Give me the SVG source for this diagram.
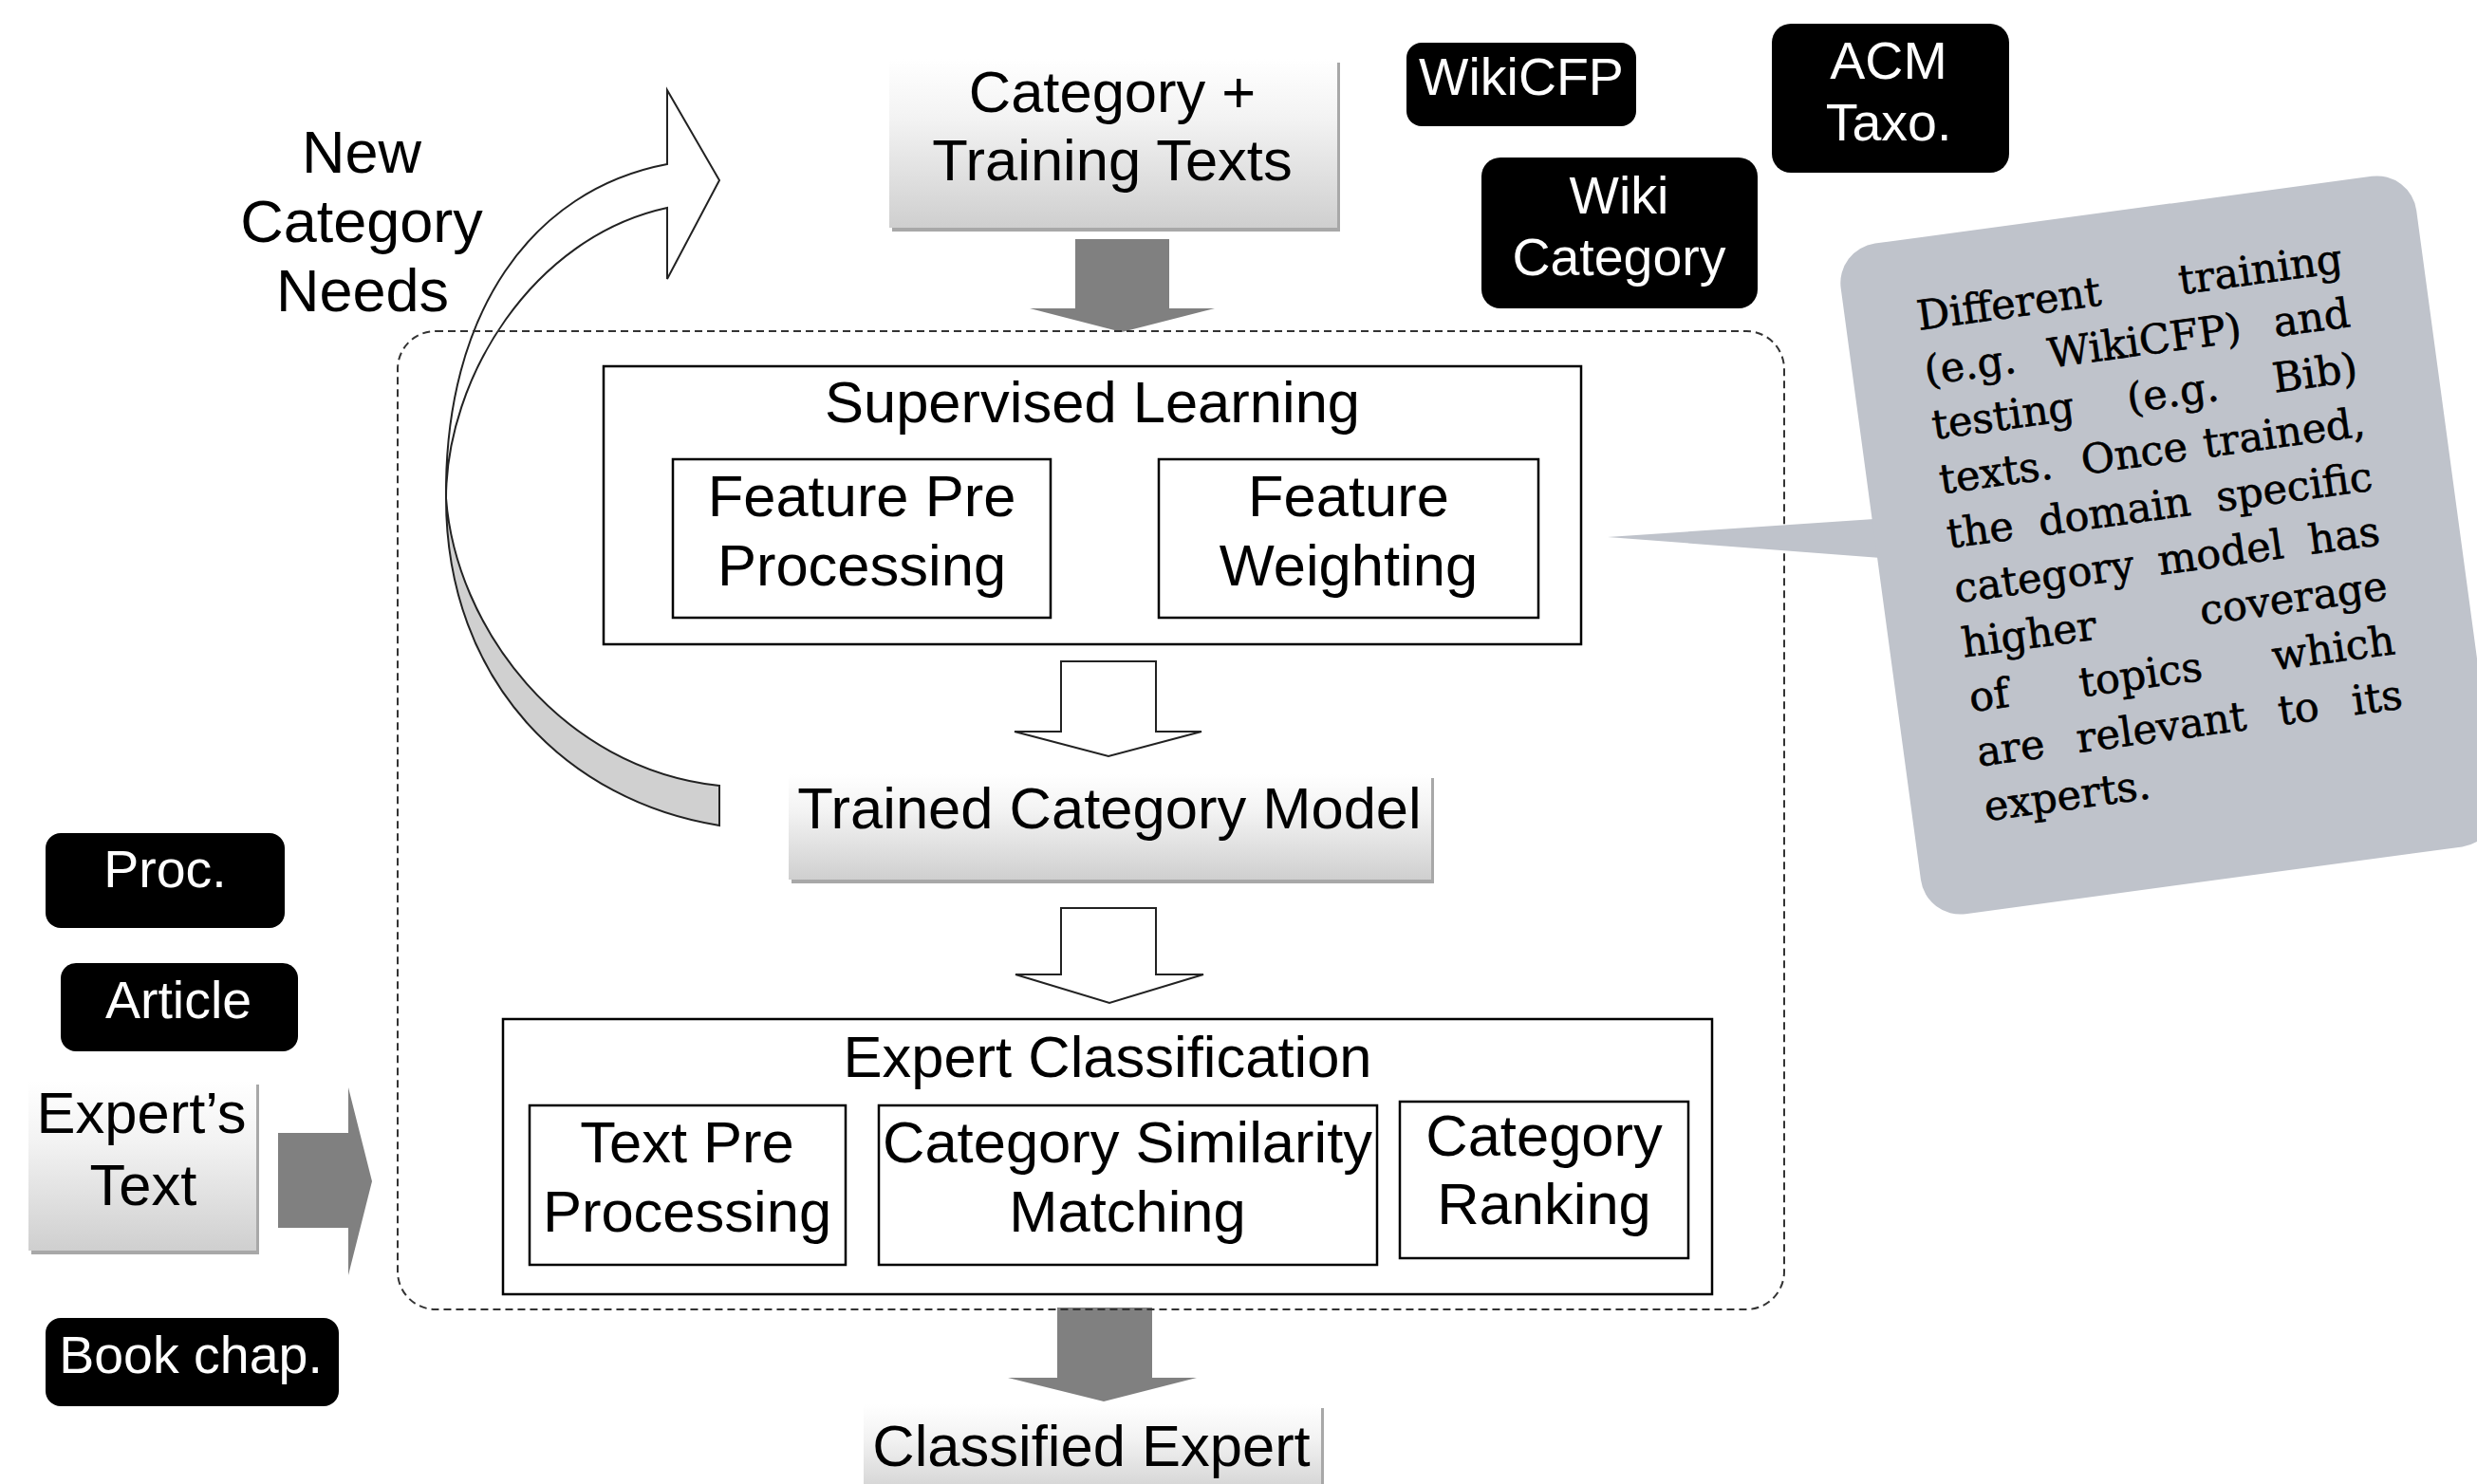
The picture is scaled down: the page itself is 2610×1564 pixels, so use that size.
<svg xmlns="http://www.w3.org/2000/svg" width="2610" height="1564" viewBox="0 0 2610 1564">
<style>
.lbl{font-family:"Liberation Sans",Arial,sans-serif;font-size:61.5px;fill:#000;text-anchor:middle}
.big{font-size:63px}
.wl{font-family:"Liberation Sans",Arial,sans-serif;font-size:55.5px;fill:#fff;text-anchor:middle}
.box{fill:#fff;stroke:#000;stroke-width:2.5}
.blk{fill:#000}
.solid{fill:#808080}
.hollow{fill:#fff;stroke:#222;stroke-width:2}
.shadow{fill:#a8a8a8}
.grad{fill:url(#g)}
.note{font-family:"DejaVu Serif",serif;font-size:43px;fill:#000;stroke:#000;stroke-width:0.6}
.mid{text-anchor:middle}
.end{text-anchor:end}
</style>
<defs>
<linearGradient id="g" x1="0" y1="0" x2="0" y2="1">
<stop offset="0" stop-color="#ffffff"/>
<stop offset="0.35" stop-color="#f3f3f3"/>
<stop offset="1" stop-color="#cfcfcf"/>
</linearGradient>
</defs>
<rect width="2610" height="1564" fill="#fff"/>

<g id="connectors">
<path id="feedback-arrow-back" d="M470,525 C470,720 600,845 758,870 L758,828 C590,810 480,660 470,525 Z" fill="#d0d0d0" stroke="#222" stroke-width="2"/>
<path id="feedback-arrow-front" d="M470,525 C468,330 560,200 703,173 L703,95 L758,190 L703,294 L703,219 C560,250 470,400 470,525 Z" fill="#fff" stroke="#222" stroke-width="2"/>
<polygon class="solid" points="1133,252 1232,252 1232,325 1280,325 1182,350 1085,325 1133,325"/>
<polygon class="hollow" points="1118,697 1218,697 1218,771 1266,771 1168,797 1069,771 1118,771"/>
<polygon class="hollow" points="1118,957 1218,957 1218,1027 1268,1027 1169,1057 1070,1027 1118,1027"/>
<polygon class="solid" points="1114,1378 1214,1378 1214,1452 1261,1452 1163,1477 1062,1452 1114,1452"/>
<polygon class="solid" points="293,1194 367,1194 367,1146 392,1245 367,1344 367,1294 293,1294"/>
</g>

<g id="container">
<rect x="419" y="349" width="1461" height="1031" rx="40" fill="none" stroke="#333" stroke-width="2" stroke-dasharray="8 5"/>
</g>

<g id="new-category-needs">
<text class="lbl big" x="381" y="182">New</text>
<text class="lbl big" x="381" y="255">Category</text>
<text class="lbl big" x="382" y="328">Needs</text>
</g>

<g id="category-training-texts">
<rect class="shadow" x="940" y="66" width="472" height="178"/>
<rect class="grad" x="937" y="62" width="472" height="178"/>
<text class="lbl" x="1172" y="118">Category +</text>
<text class="lbl" x="1172" y="190">Training Texts</text>
</g>

<g id="wikicfp">
<rect class="blk" x="1482" y="45" width="242" height="88" rx="16"/>
<text class="wl" x="1603" y="100">WikiCFP</text>
</g>
<g id="acm-taxo">
<rect class="blk" x="1867" y="25" width="250" height="157" rx="20"/>
<text class="wl" x="1990" y="83">ACM</text>
<text class="wl" x="1990" y="148">Taxo.</text>
</g>
<g id="wiki-category">
<rect class="blk" x="1561" y="166" width="291" height="159" rx="20"/>
<text class="wl" x="1706" y="225">Wiki</text>
<text class="wl" x="1706" y="290">Category</text>
</g>

<g id="supervised-learning">
<rect class="box" x="636" y="386" width="1030" height="293"/>
<text class="lbl" x="1151" y="445">Supervised Learning</text>
</g>
<g id="feature-pre-processing">
<rect class="box" x="709" y="484" width="398" height="167"/>
<text class="lbl" x="908" y="544">Feature Pre</text>
<text class="lbl" x="908" y="617">Processing</text>
</g>
<g id="feature-weighting">
<rect class="box" x="1221" y="484" width="400" height="167"/>
<text class="lbl" x="1421" y="544">Feature</text>
<text class="lbl" x="1421" y="617">Weighting</text>
</g>

<g id="trained-category-model">
<rect class="shadow" x="834" y="820" width="677" height="111"/>
<rect class="grad" x="831" y="816" width="677" height="111"/>
<text class="lbl" x="1169" y="873">Trained Category Model</text>
</g>

<g id="expert-classification">
<rect class="box" x="530" y="1074" width="1274" height="290"/>
<text class="lbl" x="1167" y="1135">Expert Classification</text>
</g>
<g id="text-pre-processing">
<rect class="box" x="558" y="1165" width="333" height="168"/>
<text class="lbl" x="724" y="1225">Text Pre</text>
<text class="lbl" x="724" y="1298">Processing</text>
</g>
<g id="category-similarity-matching">
<rect class="box" x="926" y="1165" width="525" height="168"/>
<text class="lbl" x="1188" y="1225">Category Similarity</text>
<text class="lbl" x="1188" y="1298">Matching</text>
</g>
<g id="category-ranking">
<rect class="box" x="1475" y="1161" width="304" height="165"/>
<text class="lbl" x="1627" y="1218">Category</text>
<text class="lbl" x="1627" y="1290">Ranking</text>
</g>

<g id="classified-expert">
<rect class="shadow" x="913" y="1484" width="482" height="100"/>
<rect class="grad" x="910" y="1480" width="482" height="100"/>
<text class="lbl" x="1150" y="1545">Classified Expert</text>
</g>

<g id="proc">
<rect class="blk" x="48" y="878" width="252" height="100" rx="16"/>
<text class="wl" x="174" y="935">Proc.</text>
</g>
<g id="article">
<rect class="blk" x="64" y="1015" width="250" height="93" rx="16"/>
<text class="wl" x="188" y="1073">Article</text>
</g>
<g id="experts-text">
<rect class="shadow" x="33" y="1143" width="240" height="179"/>
<rect class="grad" x="30" y="1139" width="240" height="179"/>
<text class="lbl" x="149" y="1194">Expert’s</text>
<text class="lbl" x="151" y="1270">Text</text>
</g>
<g id="book-chap">
<rect class="blk" x="48" y="1389" width="309" height="93" rx="16"/>
<text class="wl" x="201" y="1447">Book chap.</text>
</g>

<g id="callout">
<polygon points="1694,566 1990,546 1995,589" fill="#bfc3cb"/>
<rect x="1979" y="218" width="612" height="713" rx="42" fill="#bfc3cb" transform="rotate(-7.7 2285 574)"/>
<g class="note" transform="translate(2022,348) rotate(-7.8)">
<text x="0" y="0">Different</text><text class="end" x="452" y="0">training</text>
<text x="0" y="58">(e.g.</text><text class="mid" x="234" y="58">WikiCFP)</text><text class="end" x="452" y="58">and</text>
<text x="0" y="116">testing</text><text class="mid" x="256" y="116">(e.g.</text><text class="end" x="452" y="116">Bib)</text>
<text x="0" y="174">texts.</text><text class="mid" x="207" y="174">Once</text><text class="end" x="452" y="174">trained,</text>
<text x="0" y="232">the</text><text class="mid" x="178" y="232">domain</text><text class="end" x="452" y="232">specific</text>
<text x="0" y="290">category</text><text class="mid" x="283" y="290">model</text><text class="end" x="452" y="290">has</text>
<text x="0" y="348">higher</text><text class="end" x="452" y="348">coverage</text>
<text x="0" y="406">of</text><text class="mid" x="182" y="406">topics</text><text class="end" x="452" y="406">which</text>
<text x="0" y="464">are</text><text class="mid" x="196" y="464">relevant</text><text class="mid" x="342" y="464">to</text><text class="end" x="452" y="464">its</text>
<text x="0" y="522">experts.</text>
</g>
</g>
</svg>
